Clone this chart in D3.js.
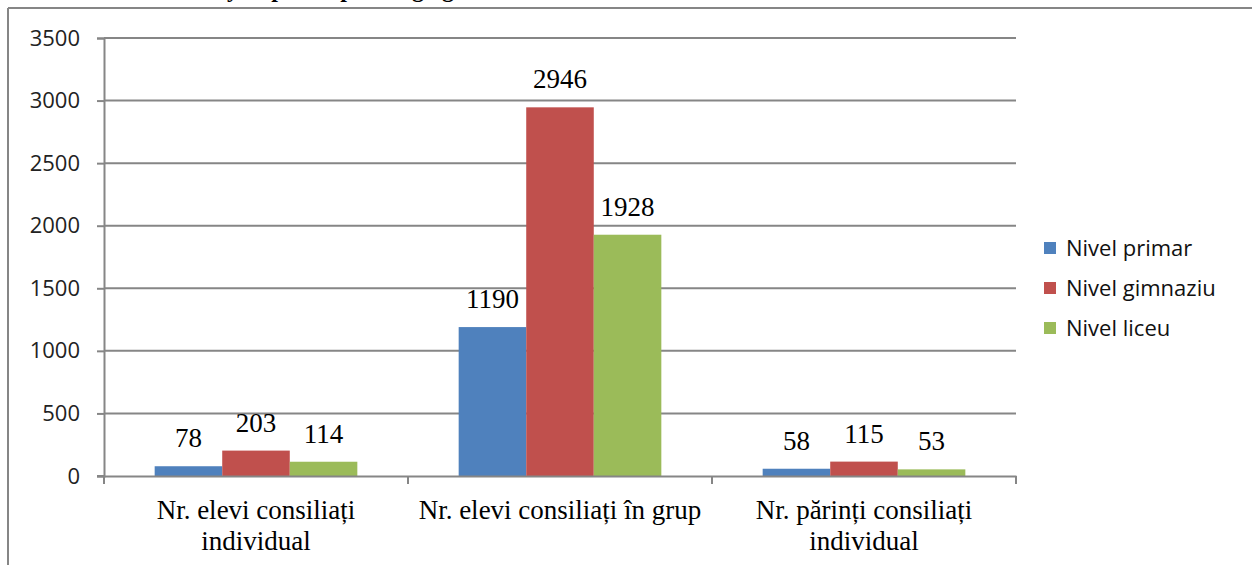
<!DOCTYPE html>
<html>
<head>
<meta charset="utf-8">
<script src="https://cdn.jsdelivr.net/npm/d3@7"></script>
<style>
  html, body { margin: 0; padding: 0; background: #fff; }
  svg { display: block; }
</style>
</head>
<body>
<svg id="chart" width="1252" height="565"></svg>
<script>
// Categories (each label split into display lines)
const categories = [
  ["Nr. elevi consiliați", "individual"],
  ["Nr. elevi consiliați în grup"],
  ["Nr. părinți consiliați", "individual"]
];
const seriesNames = ["Nivel primar", "Nivel gimnaziu", "Nivel liceu"];
const seriesColors = ["#4F81BD", "#C0504D", "#9BBB59"];
const nivelPrimar   = [78, 1190, 58];
const nivelGimnaziu = [203, 2946, 115];
const nivelLiceu    = [114, 1928, 53];
const yTicks = [0, 500, 1000, 1500, 2000, 2500, 3000, 3500];

const seriesValues = [nivelPrimar, nivelGimnaziu, nivelLiceu];

const svg = d3.select("#chart");
const W = 1252, H = 565;
const plot = { left: 104, right: 1016, top: 38, bottom: 476 };
const gridColor = "#868686";
const sansFont = "'Open Sans', Carlito, 'Liberation Sans', sans-serif";
const serifFont = "'Liberation Serif', 'Times New Roman', serif";

// Frame around the chart object (top and left edges visible)
svg.append("line").attr("x1", 8).attr("x2", W).attr("y1", 8).attr("y2", 8)
  .attr("stroke", gridColor).attr("stroke-width", 2);
svg.append("line").attr("x1", 8).attr("x2", 8).attr("y1", 8).attr("y2", H)
  .attr("stroke", gridColor).attr("stroke-width", 2);

// Descenders of the heading line above the chart
const headingGlyphs = [
  { ch: "y", x: 233 }, { ch: "p", x: 278 }, { ch: "p", x: 347 },
  { ch: "g", x: 418 }, { ch: "g", x: 448 }
];
svg.append("g").selectAll("text").data(headingGlyphs).join("text")
  .attr("x", d => d.x).attr("y", -3)
  .attr("text-anchor", "middle")
  .attr("font-family", serifFont)
  .attr("font-weight", "bold").attr("font-size", 24)
  .attr("fill", "#000").text(d => d.ch);

const x0 = d3.scaleBand()
  .domain(d3.range(categories.length))
  .range([plot.left, plot.right])
  .paddingInner(0).paddingOuter(0);

// 150% gap between groups: bar width = band / (3 + 1.5)
const barW = x0.bandwidth() / (seriesNames.length + 1.5);
const x1 = d3.scaleBand()
  .domain(d3.range(seriesNames.length))
  .range([0, barW * seriesNames.length]);

const y = d3.scaleLinear().domain([0, 3500]).range([plot.bottom, plot.top]);

// Horizontal gridlines
svg.append("g").selectAll("line").data(yTicks.filter(t => t > 0)).join("line")
  .attr("x1", plot.left).attr("x2", plot.right)
  .attr("y1", d => y(d)).attr("y2", d => y(d))
  .attr("stroke", gridColor).attr("stroke-width", 2);

// Y axis
const yAxis = svg.append("g")
  .attr("transform", `translate(${plot.left},0)`)
  .call(d3.axisLeft(y).tickValues(yTicks).tickSize(7).tickPadding(17).tickFormat(d3.format("d")));
yAxis.select(".domain").attr("stroke", gridColor).attr("stroke-width", 2);
yAxis.selectAll(".tick line").attr("stroke", gridColor).attr("stroke-width", 2);
yAxis.selectAll(".tick text")
  .attr("x", -24)
  .attr("font-family", sansFont)
  .attr("font-size", 22).attr("fill", "#222");

// Bars
const groups = svg.append("g").selectAll("g").data(categories).join("g")
  .attr("transform", (d, i) => `translate(${x0(i) + (x0.bandwidth() - barW * seriesNames.length) / 2},0)`);

groups.each(function (cat, ci) {
  const g = d3.select(this);
  const vals = seriesValues.map((s, si) => ({ si, v: s[ci] }));
  g.selectAll("rect").data(vals).join("rect")
    .attr("x", d => x1(d.si)).attr("width", x1.bandwidth())
    .attr("y", d => y(d.v)).attr("height", d => y(0) - y(d.v))
    .attr("fill", d => seriesColors[d.si]);
  g.selectAll("text.val").data(vals).join("text").attr("class", "val")
    .attr("x", d => x1(d.si) + x1.bandwidth() / 2)
    .attr("y", d => y(d.v) - 19)
    .attr("text-anchor", "middle")
    .attr("font-family", serifFont)
    .attr("font-size", 27).attr("fill", "#000")
    .text(d => d.v);
});

// X axis baseline and category ticks
const xAxis = svg.append("g")
  .attr("transform", `translate(0,${plot.bottom})`)
  .call(d3.axisBottom(x0).tickValues([]).tickSizeOuter(0));
xAxis.select(".domain").attr("stroke", gridColor).attr("stroke-width", 2);
svg.append("line").attr("x1", plot.left - 7).attr("x2", plot.left)
  .attr("y1", plot.bottom).attr("y2", plot.bottom)
  .attr("stroke", gridColor).attr("stroke-width", 2);
const boundaries = d3.range(categories.length + 1).map(i => plot.left + i * x0.bandwidth());
svg.append("g").selectAll("line").data(boundaries).join("line")
  .attr("x1", d => d).attr("x2", d => d)
  .attr("y1", plot.bottom).attr("y2", plot.bottom + 8)
  .attr("stroke", gridColor).attr("stroke-width", 2);

// Category labels
const catLabels = svg.append("g").selectAll("text").data(categories).join("text")
  .attr("text-anchor", "middle")
  .attr("font-family", serifFont)
  .attr("font-size", 27).attr("fill", "#000");
catLabels.each(function (lines, i) {
  d3.select(this).selectAll("tspan").data(lines).join("tspan")
    .attr("x", x0(i) + x0.bandwidth() / 2)
    .attr("y", (d, j) => 519 + j * 31)
    .text(d => d);
});

// Legend
const legend = svg.append("g").attr("transform", "translate(1044,248)");
const items = legend.selectAll("g").data(seriesNames).join("g")
  .attr("transform", (d, i) => `translate(0,${i * 40})`);
items.append("rect").attr("x", 0).attr("y", -6).attr("width", 12).attr("height", 12)
  .attr("fill", (d, i) => seriesColors[i]);
items.append("text").attr("x", 22).attr("y", 8)
  .attr("font-family", sansFont)
  .attr("font-size", 22).attr("fill", "#111")
  .text(d => d);
</script>
</body>
</html>
